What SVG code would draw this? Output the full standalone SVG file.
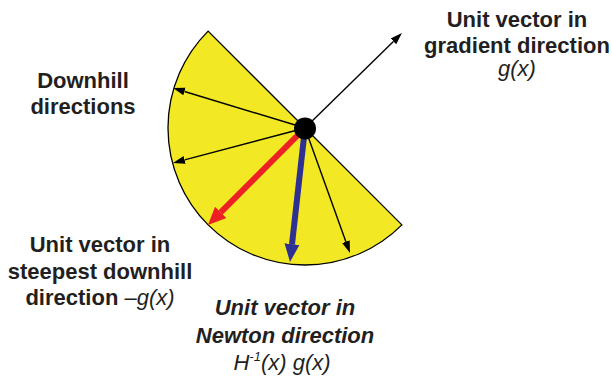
<svg xmlns="http://www.w3.org/2000/svg" width="612" height="379" viewBox="0 0 612 379">
<style>
text{font-family:"Liberation Sans",Arial,sans-serif;font-size:22px;fill:#231f20;text-anchor:middle}
.b{font-weight:bold}
.i{font-style:italic;font-weight:normal}
.bi{font-weight:bold;font-style:italic}
.thin{stroke:#000;stroke-width:1.4;fill:none}
</style>
<defs>
<marker id="ah" viewBox="0 -5 12 10" refX="0" refY="0" markerWidth="12" markerHeight="10" markerUnits="userSpaceOnUse" orient="auto">
<path d="M0,-4 L12,0 L0,4 z" fill="#000"/>
</marker>
<marker id="ahr" viewBox="0 -9 18 18" refX="0" refY="0" markerWidth="18" markerHeight="18" markerUnits="userSpaceOnUse" orient="auto">
<path d="M0,-8 L18,0 L0,8 z" fill="#ed2024"/>
</marker>
<marker id="ahb" viewBox="0 -9 18 18" refX="0" refY="0" markerWidth="18" markerHeight="18" markerUnits="userSpaceOnUse" orient="auto">
<path d="M0,-7.5 L18,0 L0,7.5 z" fill="#2e3192"/>
</marker>
</defs>
<g id="sector">
<path d="M208.1,31.1 A137,137 0 0 0 401.9,224.9 Z" fill="#f2e823" stroke="#000" stroke-width="1.3"/>
</g>
<g id="connectors">
<line class="thin" x1="305" y1="128" x2="393.4" y2="41.4" marker-end="url(#ah)"/>
<line class="thin" x1="305" y1="128" x2="184.5" y2="91.5" marker-end="url(#ah)"/>
<line class="thin" x1="305" y1="128" x2="184.6" y2="159.9" marker-end="url(#ah)"/>
<line class="thin" x1="305" y1="128" x2="345.9" y2="241.7" marker-end="url(#ah)"/>
<line x1="305" y1="128" x2="220.7" y2="212.3" stroke="#ed2024" stroke-width="6" marker-end="url(#ahr)"/>
<line x1="305" y1="128" x2="292" y2="244.1" stroke="#2e3192" stroke-width="6" marker-end="url(#ahb)"/>
</g>
<g id="point">
<circle cx="305" cy="128.5" r="11" fill="#000"/>
</g>
<g id="label-gradient">
<text class="b" x="517" y="27">Unit vector in</text>
<text class="b" x="517" y="53">gradient direction</text>
<text class="i" x="517" y="76">g(x)</text>
</g>
<g id="label-downhill">
<text class="b" x="83" y="88">Downhill</text>
<text class="b" x="83" y="114">directions</text>
</g>
<g id="label-steepest">
<text class="b" x="100" y="252">Unit vector in</text>
<text class="b" x="100" y="279">steepest downhill</text>
<text x="100" y="305"><tspan class="b">direction </tspan><tspan class="i">–g(x)</tspan></text>
</g>
<g id="label-newton">
<text class="bi" x="285" y="315">Unit vector in</text>
<text class="bi" x="285" y="343">Newton direction</text>
<text class="i" x="282" y="370">H<tspan font-size="13" dy="-9">-1</tspan><tspan dy="9">(x) g(x)</tspan></text>
</g>
</svg>
